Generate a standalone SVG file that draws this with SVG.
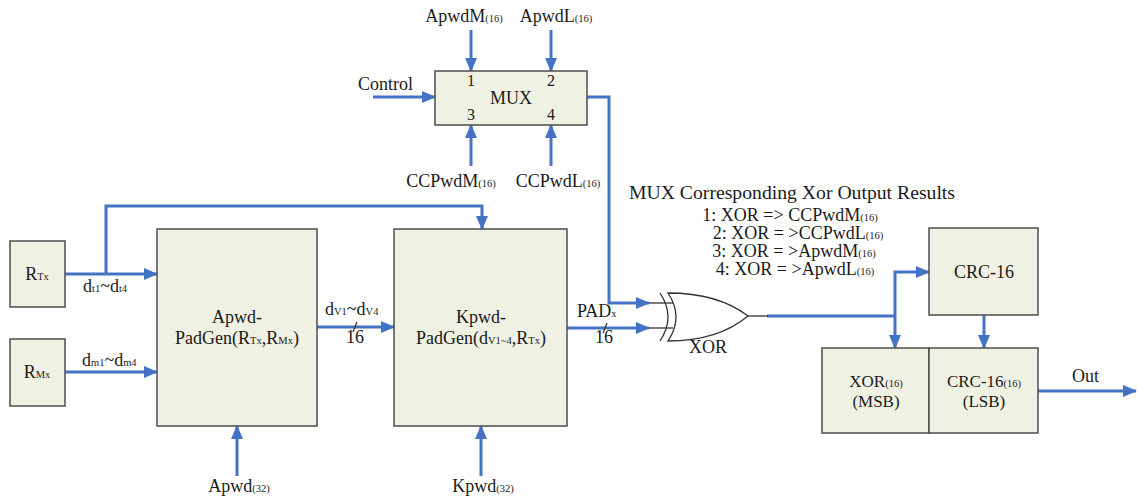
<svg xmlns="http://www.w3.org/2000/svg" width="1138" height="498" viewBox="0 0 1138 498">
  <defs>
    <marker id="arrow" markerUnits="userSpaceOnUse" markerWidth="14" markerHeight="14" viewBox="0 0 14 14" refX="13" refY="7" orient="auto">
      <path d="M0,1 L14,7 L0,13 Z" fill="#4472c4"/>
    </marker>
    <style>
      .box { fill: #eff1e3; stroke: #4d4d4d; stroke-width: 1.5; }
      .wire { fill: none; stroke: #4472c4; stroke-width: 3; }
      .thin { fill: none; stroke: #333; stroke-width: 1.3; }
      text { font-family: "Liberation Serif", "Times New Roman", serif; font-size: 18px; fill: #1a1a1a; }
      .mid { text-anchor: middle; }
      .sub { font-size: 10.5px; }
      .small { font-size: 16px; }
      .cell { font-size: 17px; }
    </style>
  </defs>

  <!-- connectors -->
  <g id="connectors">
    <!-- MUX inputs -->
    <line class="wire" x1="471" y1="30" x2="471" y2="71" marker-end="url(#arrow)"/>
    <line class="wire" x1="551" y1="30" x2="551" y2="71" marker-end="url(#arrow)"/>
    <line class="wire" x1="471" y1="166" x2="471" y2="125" marker-end="url(#arrow)"/>
    <line class="wire" x1="551" y1="166" x2="551" y2="125" marker-end="url(#arrow)"/>
    <line class="wire" x1="373" y1="97" x2="435" y2="97" marker-end="url(#arrow)"/>
    <!-- MUX output to XOR -->
    <polyline class="wire" points="587,97 609,97 609,303 649,303" marker-end="url(#arrow)"/>
    <!-- R_Tx / R_Mx into Apwd-PadGen -->
    <line class="wire" x1="65" y1="274" x2="157" y2="274" marker-end="url(#arrow)"/>
    <polyline class="wire" points="106,274 106,206 482,206 482,229" marker-end="url(#arrow)"/>
    <line class="wire" x1="65" y1="372" x2="157" y2="372" marker-end="url(#arrow)"/>
    <!-- Apwd-PadGen to Kpwd-PadGen -->
    <line class="wire" x1="317" y1="327" x2="394" y2="327" marker-end="url(#arrow)"/>
    <!-- Kpwd-PadGen to XOR -->
    <line class="wire" x1="567" y1="328" x2="649" y2="328" marker-end="url(#arrow)"/>
    <!-- key inputs -->
    <line class="wire" x1="237" y1="476" x2="237" y2="426" marker-end="url(#arrow)"/>
    <line class="wire" x1="481" y1="476" x2="481" y2="426" marker-end="url(#arrow)"/>
    <!-- XOR output, split to CRC-16 and XOR(16) -->
    <line class="wire" x1="767" y1="316" x2="895" y2="316"/>
    <polyline class="wire" points="895,316 895,272 929,272" marker-end="url(#arrow)"/>
    <line class="wire" x1="895" y1="316" x2="895" y2="348" marker-end="url(#arrow)"/>
    <line class="wire" x1="984" y1="315" x2="984" y2="348" marker-end="url(#arrow)"/>
    <!-- output -->
    <line class="wire" x1="1038" y1="391" x2="1136" y2="391" marker-end="url(#arrow)"/>
    <!-- bus width ticks -->
    <line class="thin" x1="353" y1="332" x2="357" y2="322"/>
    <line class="thin" x1="603" y1="333" x2="607" y2="323"/>
  </g>

  <!-- MUX -->
  <g id="mux">
    <rect class="box" x="435" y="71" width="152" height="54"/>
    <text class="mid" x="511" y="104">MUX</text>
    <text class="mid small" x="471" y="86">1</text>
    <text class="mid small" x="551" y="86">2</text>
    <text class="mid small" x="471" y="120">3</text>
    <text class="mid small" x="551" y="120">4</text>
  </g>
  <g id="mux-labels">
    <text class="mid" x="464" y="22">ApwdM<tspan class="sub">(16)</tspan></text>
    <text class="mid" x="556" y="22">ApwdL<tspan class="sub">(16)</tspan></text>
    <text class="mid" x="451" y="187">CCPwdM<tspan class="sub">(16)</tspan></text>
    <text class="mid" x="558" y="187">CCPwdL<tspan class="sub">(16)</tspan></text>
    <text x="358" y="90">Control</text>
  </g>

  <!-- R_Tx source -->
  <g id="rtx">
    <rect class="box" x="10" y="241" width="55" height="66"/>
    <text class="mid" x="37" y="280">R<tspan class="sub">Tx</tspan></text>
  </g>
  <!-- R_Mx source -->
  <g id="rmx">
    <rect class="box" x="10" y="339" width="55" height="67"/>
    <text class="mid" x="37" y="378">R<tspan class="sub">Mx</tspan></text>
  </g>

  <!-- Apwd-PadGen -->
  <g id="apwd-padgen">
    <rect class="box" x="157" y="229" width="160" height="197"/>
    <text class="mid" x="237" y="323">Apwd-</text>
    <text class="mid" x="237" y="344">PadGen(R<tspan class="sub">Tx</tspan>,R<tspan class="sub">Mx</tspan>)</text>
  </g>

  <!-- Kpwd-PadGen -->
  <g id="kpwd-padgen">
    <rect class="box" x="394" y="229" width="173" height="197"/>
    <text class="mid" x="481" y="323">Kpwd-</text>
    <text class="mid" x="481" y="344">PadGen(d<tspan class="sub">V1~4</tspan>,R<tspan class="sub">Tx</tspan>)</text>
  </g>

  <!-- wire labels -->
  <g id="wire-labels">
    <text x="83" y="292">d<tspan class="sub">t1</tspan>~d<tspan class="sub">t4</tspan></text>
    <text x="82" y="366">d<tspan class="sub">m1</tspan>~d<tspan class="sub">m4</tspan></text>
    <text x="325" y="315">d<tspan class="sub">V1</tspan>~d<tspan class="sub">V4</tspan></text>
    <text class="mid" x="355" y="343">16</text>
    <text x="577" y="317">PAD<tspan class="sub">x</tspan></text>
    <text class="mid" x="604" y="343">16</text>
    <text class="mid" x="239" y="492">Apwd<tspan class="sub">(32)</tspan></text>
    <text class="mid" x="483" y="492">Kpwd<tspan class="sub">(32)</tspan></text>
    <text x="1072" y="382">Out</text>
  </g>

  <!-- XOR gate -->
  <g id="xor-gate">
    <line class="thin" x1="649" y1="303" x2="673" y2="303"/>
    <line class="thin" x1="649" y1="328" x2="673" y2="328"/>
    <path class="thin" d="M660,293 Q676,317 660,341"/>
    <path d="M668,293 Q684,317 668,341 Q718,341 748,316 Q718,293 668,293 Z" fill="#ffffff" stroke="#333" stroke-width="1.3"/>
    <line class="thin" x1="748" y1="316" x2="768" y2="316"/>
    <text class="mid" x="708" y="353">XOR</text>
  </g>

  <!-- MUX selection legend -->
  <g id="legend">
    <text class="mid" x="792" y="199" textLength="326" lengthAdjust="spacingAndGlyphs">MUX Corresponding Xor Output Results</text>
    <text class="mid" x="790" y="221">1: XOR =&gt; CCPwdM<tspan class="sub">(16)</tspan></text>
    <text class="mid" x="798" y="239">2: XOR = &gt;CCPwdL<tspan class="sub">(16)</tspan></text>
    <text class="mid" x="794" y="257">3: XOR = &gt;ApwdM<tspan class="sub">(16)</tspan></text>
    <text class="mid" x="795" y="275">4: XOR = &gt;ApwdL<tspan class="sub">(16)</tspan></text>
  </g>

  <!-- CRC-16 -->
  <g id="crc16">
    <rect class="box" x="929" y="228" width="109" height="87"/>
    <text class="mid" x="984" y="278">CRC-16</text>
  </g>

  <!-- output word: XOR(16) | CRC-16(16) -->
  <g id="xor16">
    <rect class="box" x="822" y="348" width="107" height="85"/>
    <text class="mid cell" x="876" y="387">XOR<tspan class="sub">(16)</tspan></text>
    <text class="mid cell" x="876" y="407">(MSB)</text>
  </g>
  <g id="crc16-out">
    <rect class="box" x="929" y="348" width="109" height="85"/>
    <text class="mid cell" x="984" y="387">CRC-16<tspan class="sub">(16)</tspan></text>
    <text class="mid cell" x="984" y="407">(LSB)</text>
  </g>
</svg>
